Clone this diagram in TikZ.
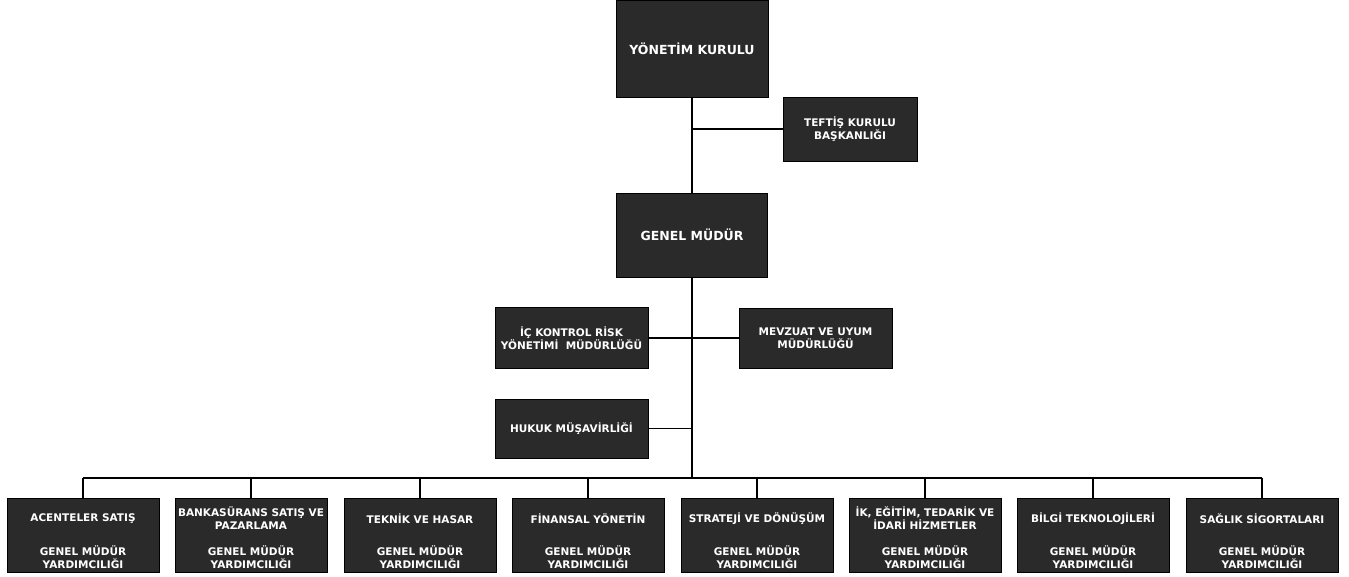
\documentclass[tikz,border=0pt]{standalone}
\usepackage{fontspec}
\setmainfont{DejaVu Sans}
\definecolor{boxfill}{RGB}{42,42,42}
\tikzset{
  orgbox/.style={draw=black, line width=0.8pt, fill=boxfill, inner sep=0pt, text=white, align=center, font=\bfseries\fontsize{10.5}{13}\selectfont},
  bigbox/.style={orgbox, font=\bfseries\fontsize{12.5}{15}\selectfont},
  unitbox/.style={orgbox, minimum width=152pt, minimum height=74pt},
  boxtext/.style={text=white, align=center, inner sep=0pt, font=\bfseries\fontsize{10.5}{13}\selectfont},
  conn/.style={draw=black, line width=1.3pt}
}
\begin{document}
\begin{tikzpicture}[x=1pt,y=-1pt]
\useasboundingbox (0,0) rectangle (1349,577);
% top levels
\node[bigbox, minimum width=152pt, minimum height=97pt] (yk) at (692,48.5) {YÖNETİM KURULU};
\node[orgbox, minimum width=134pt, minimum height=64pt] (teftis) at (850,129) {TEFTİŞ KURULU\\BAŞKANLIĞI};
\node[bigbox, minimum width=151pt, minimum height=84pt] (gm) at (692,235) {GENEL MÜDÜR};
\node[orgbox, minimum width=153pt, minimum height=61pt] (ic) at (571.5,338) {İÇ KONTROL RİSK\\YÖNETİMİ~~MÜDÜRLÜĞÜ};
\node[orgbox, minimum width=153pt, minimum height=60pt] (mev) at (815.5,338) {MEVZUAT VE UYUM\\MÜDÜRLÜĞÜ};
\node[orgbox, minimum width=153pt, minimum height=59pt] (huk) at (571.5,428.5) {HUKUK MÜŞAVİRLİĞİ};
% bottom units
\foreach \i/\x in {1/83,2/251,3/420,4/588,5/757,6/925,7/1093,8/1262}{
  \node[unitbox] (b\i) at (\x,535) {};
}
\node[boxtext] (t1) at ([yshift=-21pt]b1.north) {ACENTELER SATIŞ};
\node[boxtext] (t2) at ([yshift=-21pt]b2.north) {BANKASÜRANS SATIŞ VE\\PAZARLAMA};
\node[boxtext] (t3) at ([yshift=-21pt]b3.north) {TEKNİK VE HASAR};
\node[boxtext] (t4) at ([yshift=-21pt]b4.north) {FİNANSAL YÖNETİN};
\node[boxtext] (t5) at ([yshift=-21pt]b5.north) {STRATEJİ VE DÖNÜŞÜM};
\node[boxtext] (t6) at ([yshift=-21pt]b6.north) {İK, EĞİTİM, TEDARİK VE\\İDARİ HİZMETLER};
\node[boxtext] (t7) at ([yshift=-21pt]b7.north) {BİLGİ TEKNOLOJİLERİ};
\node[boxtext] (t8) at ([yshift=-21pt]b8.north) {SAĞLIK SİGORTALARI};
\foreach \i in {1,...,8}{
  \node[boxtext] (g\i) at ([yshift=15pt]b\i.south) {GENEL MÜDÜR\\YARDIMCILIĞI};
}
% connectors
\coordinate (jt) at (692,129);
\coordinate (bus) at (692,478);
\draw[conn] (yk.south) -- (gm.north);
\draw[conn] (jt) -- (teftis.west);
\draw[conn] (gm.south) -- (bus);
\draw[conn] (ic.east) -- (mev.west);
\draw[conn] (huk.east) -- (huk.east -| bus);
\draw[conn] (b1.north |- bus) -- (b8.north |- bus);
\foreach \i in {1,...,8}{
  \draw[conn] (b\i.north |- bus) -- (b\i.north);
}
\end{tikzpicture}
\end{document}
